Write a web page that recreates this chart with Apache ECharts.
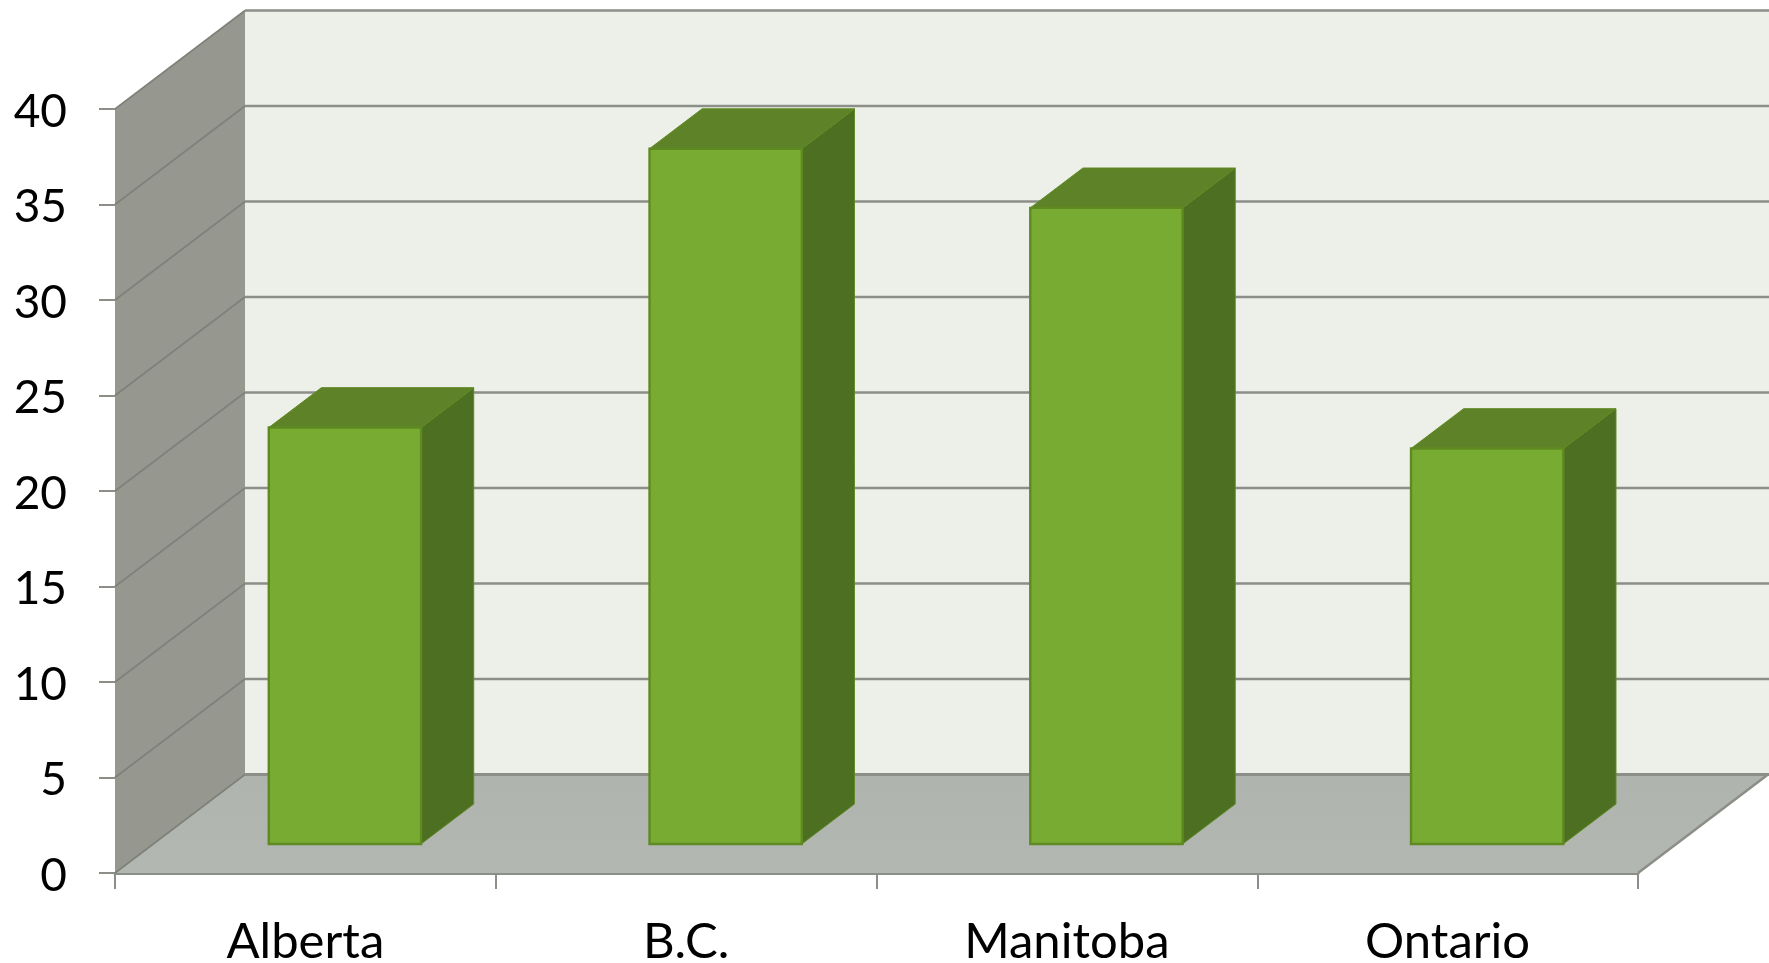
<!DOCTYPE html>
<html><head><meta charset="utf-8">
<style>html,body{margin:0;padding:0;background:#fff}#c{width:1769px;height:963px}</style>
<script src="https://cdn.jsdelivr.net/npm/echarts@6/dist/echarts.min.js"></script>
</head><body><div id="c"></div>
<script>
const categories = ['Alberta', 'B.C.', 'Manitoba', 'Ontario'];
const values = [21.8, 36.4, 33.3, 20.7];
const yMin = 0, yMax = 40, yStep = 5;
const yTicks = [0, 5, 10, 15, 20, 25, 30, 35, 40];

const DX = 130, DY = -98.5;
const BAR_NEAR = 0.295, BAR_FAR = 0.70, BAR_W = 0.40, BAR_NUDGE = 1.2;
const LINE = '#8c8e88';

const shift = (p, f) => [p[0] + DX * f, p[1] + DY * f];
const poly = (points, fill, stroke, lw) => ({
  type: 'polygon', shape: { points },
  style: { fill: fill, stroke: stroke || null, lineWidth: lw || 0, lineJoin: 'miter' }
});
const seg = (a, b, lw, color) => ({
  type: 'line', shape: { x1: a[0], y1: a[1], x2: b[0], y2: b[1] },
  style: { stroke: color || LINE, lineWidth: lw, fill: null }
});
const vGrad = (a, b) => ({ type: 'linear', x: 0, y: 0, x2: 0, y2: 1, colorStops: [{ offset: 0, color: a }, { offset: 1, color: b }] });

function frame(params, api) {
  if (params.dataIndex !== 0) return null;
  const band = api.size([1, 0])[0];
  const l = api.coord([0, yMin])[0] - band / 2;
  const r = api.coord([categories.length - 1, yMin])[0] + band / 2;
  const y0 = api.coord([0, yMin])[1], y1 = api.coord([0, yMax])[1];
  const A = [l, y0], B = [r, y0], C = [l, y1];
  const children = [
    poly([shift(C, 1), [r + DX + 5, y1 + DY], [r + DX + 5, y0 + DY], shift(A, 1)], '#edf0e9'),
    poly([C, shift(C, 1), shift(A, 1), A], '#969890'),
    poly([A, B, shift(B, 1), shift(A, 1)], vGrad('#b0b4ae', '#b3b7b1'))
  ];
  yTicks.forEach(function (t) {
    const p = [l, api.coord([0, t])[1]];
    const q = shift(p, 1);
    children.push(seg(p, q, 1.6, '#7e807a'));
    children.push(seg(q, [r + DX + 5, q[1]], t === 0 ? 3 : 2.6));
  });
  children.push(seg(B, shift(B, 1), 2.5));
  return { type: 'group', children };
}

function bar3d(params, api) {
  const i = api.value(0), v = api.value(1);
  const w = api.size([1, 0])[0] * BAR_W;
  const cx = api.coord([i, 0])[0] + BAR_NUDGE;
  const lo = api.coord([i, 0])[1], hi = api.coord([i, v])[1];
  const fl = shift([cx - w / 2, lo], BAR_NEAR), fr = shift([cx + w / 2, lo], BAR_NEAR);
  const tl = shift([cx - w / 2, hi], BAR_NEAR), tr = shift([cx + w / 2, hi], BAR_NEAR);
  const d = BAR_FAR - BAR_NEAR;
  const edge = '#5f8a22';
  return {
    type: 'group',
    children: [
      poly([fr, tr, shift(tr, d), shift(fr, d)], '#4d6f22', edge, 1),
      poly([tl, tr, shift(tr, d), shift(tl, d)], '#5e8228', edge, 1),
      poly([fl, fr, tr, tl], '#78ab32', edge, 2.4)
    ]
  };
}

const fam = 'Lato, Carlito, sans-serif';
const chart = echarts.init(document.getElementById('c'), null, { renderer: 'canvas' });
chart.setOption({
  animation: false,
  backgroundColor: '#fff',
  grid: { left: 115, right: 131, top: 109, bottom: 90, outerBoundsMode: 'none' },
  xAxis: {
    type: 'category', data: categories, boundaryGap: true,
    axisLine: { show: true, lineStyle: { color: LINE, width: 3 } },
    axisTick: { show: true, alignWithLabel: false, length: 16, lineStyle: { color: LINE, width: 2 } },
    axisLabel: { margin: 45, fontFamily: fam, fontSize: 49, color: '#000' },
    splitLine: { show: false }
  },
  yAxis: {
    type: 'value', min: yMin, max: yMax, interval: yStep,
    axisLine: { show: false },
    axisTick: { show: true, length: 16, lineStyle: { color: LINE, width: 2 } },
    axisLabel: { margin: 48, fontFamily: fam, fontSize: 46, color: '#000', verticalAlign: 'top', lineHeight: 6 },
    splitLine: { show: false }
  },
  series: [
    { type: 'custom', name: 'frame', silent: true, clip: false, z: 1, renderItem: frame, data: yTicks.map(function (t, i) { return [i, t]; }) },
    { type: 'custom', name: 'Value', silent: true, clip: false, z: 3, renderItem: bar3d, data: values.map(function (v, i) { return [i, v]; }) }
  ]
});
</script></body></html>
